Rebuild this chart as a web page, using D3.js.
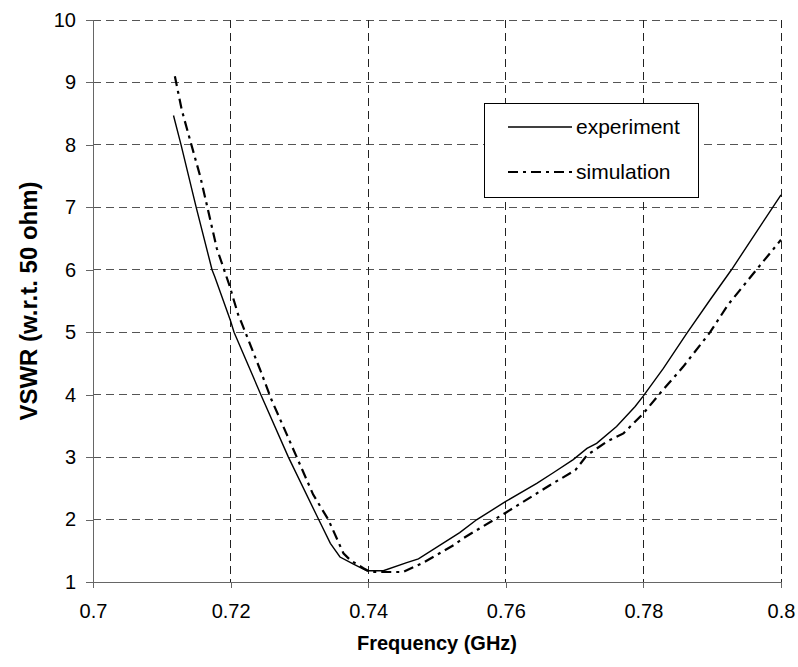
<!DOCTYPE html>
<html><head><meta charset="utf-8">
<script src="https://cdn.jsdelivr.net/npm/d3@7"></script>
<style>body{margin:0;background:#fff}svg{display:block}</style>
</head><body>
<script>
const freqExp = [0.7117,0.7128,0.7150,0.7173,0.7177,0.7200,0.7205,0.7244,0.7284,0.7328,0.7345,0.7359,0.7378,0.7398,0.7422,0.7456,0.7473,0.7533,0.7558,0.7600,0.7645,0.7669,0.7698,0.7718,0.7732,0.7761,0.7788,0.7800,0.7829,0.7863,0.7897,0.7928,0.8000];
const vswrExp = [8.47,8.0,7.0,6.0,5.89,5.18,5.0,4.0,3.0,2.0,1.62,1.40,1.29,1.18,1.18,1.31,1.37,1.79,2.0,2.29,2.58,2.75,2.96,3.14,3.22,3.49,3.81,3.98,4.42,4.98,5.52,6.0,7.2];
const freqSim = [0.7119,0.7129,0.7139,0.7156,0.7165,0.7180,0.7198,0.7211,0.7216,0.7244,0.7259,0.7281,0.7320,0.7342,0.7364,0.7374,0.7393,0.7403,0.7451,0.7480,0.7524,0.7538,0.7600,0.7664,0.7701,0.7718,0.7747,0.7771,0.7800,0.7824,0.7858,0.7897,0.7923,0.7965,0.8000];
const vswrSim = [9.10,8.56,8.16,7.49,7.06,6.34,5.76,5.28,5.15,4.37,3.93,3.38,2.40,2.0,1.46,1.35,1.22,1.16,1.16,1.31,1.59,1.70,2.11,2.55,2.79,3.03,3.25,3.38,3.70,4.02,4.45,5.0,5.44,6.01,6.48];
const xTicks = [0.7,0.72,0.74,0.76,0.78,0.8];
const xTickLabels = ["0.7","0.72","0.74","0.76","0.78","0.8"];
const yTicks = [1,2,3,4,5,6,7,8,9,10];
const seriesNames = ["experiment","simulation"];
const xTitle = "Frequency (GHz)";
const yTitle = "VSWR (w.r.t. 50 ohm)";

const W=798,H=667, L=93,R=781,T=20,B=582;
const svg=d3.select("body").append("svg").attr("width",W).attr("height",H);
const x=d3.scaleLinear().domain([0.7,0.8]).range([L,R]);
const y=d3.scaleLinear().domain([1,10]).range([B,T]);
const font="Liberation Sans, Arial, sans-serif";

// grid
svg.append("g").selectAll("line").data(yTicks.filter(d=>d>1)).join("line")
  .attr("x1",L).attr("x2",R).attr("y1",d=>y(d)).attr("y2",d=>y(d))
  .attr("stroke","#555").attr("stroke-dasharray","8,5").attr("shape-rendering","crispEdges");
svg.append("g").selectAll("line").data(xTicks.filter(d=>d>0.7)).join("line")
  .attr("x1",d=>x(d)).attr("x2",d=>x(d)).attr("y1",T).attr("y2",B)
  .attr("stroke","#222").attr("stroke-dasharray","8,5").attr("shape-rendering","crispEdges");

// axes
const yAxis=d3.axisLeft(y).tickValues(yTicks).tickSize(7).tickPadding(10).tickFormat(d3.format("d"));
const gy=svg.append("g").attr("transform",`translate(${L},0)`).call(yAxis);
const xAxis=d3.axisBottom(x).tickValues(xTicks).tickSize(6).tickPadding(16).tickFormat((d,i)=>xTickLabels[i]);
const gx=svg.append("g").attr("transform",`translate(0,${B})`).call(xAxis);
[gx,gy].forEach(g=>{
  g.select(".domain").attr("stroke","#666").attr("shape-rendering","crispEdges");
  g.selectAll(".tick line").attr("stroke","#666").attr("shape-rendering","crispEdges");
  g.selectAll("text").attr("font-family",font).attr("font-size",20).attr("fill","#000");
});
gy.select(".domain").attr("d",`M0,${B}V${T}`);
gx.select(".domain").attr("d",`M${L},0H${R}`);

// lines
const line=d3.line().x(d=>x(d[0])).y(d=>y(d[1]));
const expData=freqExp.map((f,i)=>[f,vswrExp[i]]);
const simData=freqSim.map((f,i)=>[f,vswrSim[i]]);
svg.append("path").attr("d",line(simData)).attr("fill","none").attr("stroke","#000")
  .attr("stroke-width",2.2).attr("stroke-dasharray","10,5,3,5");
svg.append("path").attr("d",line(expData)).attr("fill","none").attr("stroke","#000")
  .attr("stroke-width",1.4);

// legend
const lg=svg.append("g");
lg.append("rect").attr("x",484.5).attr("y",103.5).attr("width",214).attr("height",94)
  .attr("fill","#fff").attr("stroke","#000").attr("stroke-width",1);
const ly=[127,172];
lg.append("line").attr("x1",508).attr("x2",572).attr("y1",ly[0]).attr("y2",ly[0]).attr("stroke","#000").attr("stroke-width",1.4);
lg.append("line").attr("x1",508).attr("x2",572).attr("y1",ly[1]).attr("y2",ly[1]).attr("stroke","#000").attr("stroke-width",2.2).attr("stroke-dasharray","10,5,3,5");
seriesNames.forEach((n,i)=>{
  lg.append("text").attr("x",576).attr("y",ly[i]).attr("dy","0.35em").attr("font-family",font).attr("font-size",21).text(n);
});

// titles
svg.append("text").attr("x",(L+R)/2).attr("y",650).attr("text-anchor","middle")
  .attr("font-family",font).attr("font-weight","bold").attr("font-size",20).text(xTitle);
svg.append("text").attr("transform",`translate(37,${(T+B)/2}) rotate(-90)`).attr("text-anchor","middle")
  .attr("font-family",font).attr("font-weight","bold").attr("font-size",24).text(yTitle);
</script>
</body></html>
